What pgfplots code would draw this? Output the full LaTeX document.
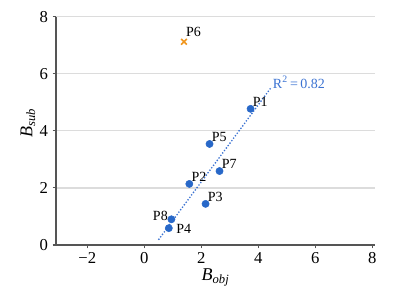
\documentclass[border=0pt]{standalone}
\usepackage{pgfplots}
\pgfplotsset{compat=1.18}
\usepackage{fontspec}
\setmainfont{Liberation Serif}
\definecolor{ptblue}{RGB}{40,104,200}
\definecolor{lineblue}{RGB}{60,115,210}
\definecolor{ptorange}{RGB}{240,150,30}
\definecolor{gridgray}{RGB}{220,220,220}
\definecolor{axgray}{RGB}{85,85,85}
\begin{document}
\begin{tikzpicture}
\begin{axis}[
  scale only axis, width=239.25pt, height=171.2pt,
  xmin=-3.1, xmax=8.1, ymin=0, ymax=8,
  axis x line*=bottom, axis y line*=left,
  axis line style={axgray, line width=0.8pt, -},
  xtick={-2,0,2,4,6,8}, xticklabels={−2,0,2,4,6,8},
  ytick={0,2,4,6,8},
  ymajorgrids, grid style={gridgray, line width=1pt},
  tick align=outside, major tick length=2.5pt,
  tick style={axgray, line width=0.8pt},
  ticklabel style={font=\fontsize{12.5}{14}\selectfont},
  xticklabel style={yshift=0.5pt},
  /pgf/number format/assume math mode=true,
  xlabel={\textit{B\textsubscript{obj}}},
  ylabel={\textit{B\textsubscript{sub}}},
  label style={font=\fontsize{13.5}{15}\selectfont},
  xlabel style={at={(axis description cs:0.5,-0.143)}, anchor=center},
  ylabel style={at={(axis description cs:-0.088,0.535)}, anchor=center},
  clip=false,
]
% trend line
\addplot[lineblue, line width=1.4pt, dash pattern=on 0pt off 2.3pt, line cap=round]
  coordinates {(0.51,0.20) (4.46,5.53)}
  node[pos=1, anchor=south west, inner sep=0pt, xshift=0.5pt, yshift=-1.5pt,
       font=\fontsize{10.5}{12}\selectfont, text=lineblue] {R\textsuperscript{2}\,=\,0.82};
% points labelled above right
\addplot[only marks, mark=*, mark size=2.7pt, color=ptblue,
  nodes near coords, point meta=explicit symbolic,
  nodes near coords style={anchor=south west, inner sep=0pt, xshift=1.5pt, yshift=1.5pt,
    font=\fontsize{10.5}{12}\selectfont, text=black}]
  table[meta=label] {
x y label
3.73 4.77 P1
2.29 3.54 P5
2.64 2.59 P7
1.58 2.14 P2
2.15 1.44 P3
};
% P8
\addplot[only marks, mark=*, mark size=2.7pt, color=ptblue,
  nodes near coords, point meta=explicit symbolic,
  nodes near coords style={anchor=east, inner sep=0pt, xshift=-2.5pt, yshift=2.25pt,
    font=\fontsize{10.5}{12}\selectfont, text=black}]
  table[meta=label] {
x y label
0.95 0.90 P8
};
% P4
\addplot[only marks, mark=*, mark size=2.7pt, color=ptblue,
  nodes near coords, point meta=explicit symbolic,
  nodes near coords style={anchor=west, inner sep=0pt, xshift=5.5pt, yshift=-0.75pt,
    font=\fontsize{10.5}{12}\selectfont, text=black}]
  table[meta=label] {
x y label
0.86 0.59 P4
};
% P6 outlier
\addplot[only marks, mark=x, mark size=3pt, color=ptorange, line width=1.2pt,
  nodes near coords, point meta=explicit symbolic,
  nodes near coords style={anchor=south west, inner sep=0pt, xshift=1pt, yshift=3.2pt,
    font=\fontsize{10.5}{12}\selectfont, text=black}]
  table[meta=label] {
x y label
1.39 7.12 P6
};
\path (rel axis cs:-0.1755,-0.175) rectangle (rel axis cs:1.075,1.073);
\end{axis}
\end{tikzpicture}
\end{document}
